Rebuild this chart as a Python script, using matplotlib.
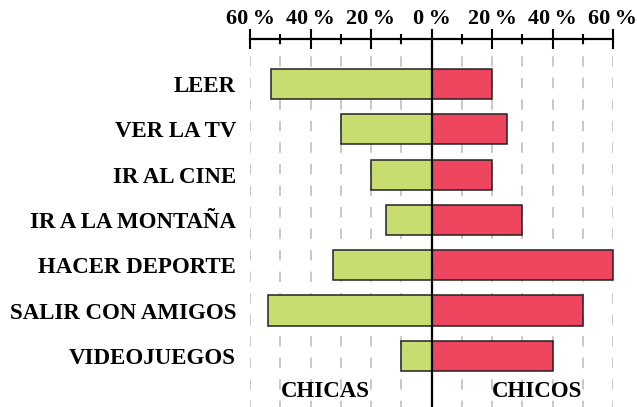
import matplotlib
matplotlib.use("Agg")
import matplotlib.pyplot as plt
import numpy as np

actividades = ["LEER", "VER LA TV", "IR AL CINE", "IR A LA MONTAÑA",
               "HACER DEPORTE", "SALIR CON AMIGOS", "VIDEOJUEGOS"]
chicas = [53, 30, 20, 15, 32.5, 54, 10]
chicos = [20, 25, 20, 30, 60, 50, 40]
ticks_mayores = [-60, -40, -20, 0, 20, 40, 60]
ticks_menores = [-50, -30, -10, 10, 30, 50]
etiquetas_ticks = ["60\u2009%", "40\u2009%", "20\u2009%", "0\u2009%", "20\u2009%", "40\u2009%", "60\u2009%"]

verde = "#c8dd6f"
rojo = "#ef465f"
borde = "#222222"

plt.rcParams['font.family'] = ['Liberation Serif', 'DejaVu Serif']
plt.rcParams['font.weight'] = 'bold'
plt.rcParams['lines.scale_dashes'] = False

fig = plt.figure(figsize=(6.37, 4.07), dpi=100)
ax = fig.add_axes([250/637, 0.0, 363/637, 1 - 39.3/407])

y = np.arange(len(actividades))

# lineas guia punteadas (todas menos el 0)
for v in ticks_mayores + ticks_menores:
    if v != 0:
        ax.axvline(v, color="#c8c8c8", lw=1.4, linestyle=(3, (7.5, 8)), zorder=0)

ax.barh(y, [-c for c in chicas], height=0.665, color=verde, edgecolor=borde, lw=1.1, zorder=2, clip_on=False)
ax.barh(y, chicos, height=0.665, color=rojo, edgecolor=borde, lw=1.1, zorder=2, clip_on=False)
ax.axvline(0, color="black", lw=1.6, zorder=3)

ax.set_xlim(-60, 60)
ax.set_ylim(7.13, -0.99)

ax.xaxis.tick_top()
ax.set_xticks(ticks_mayores)
ax.set_xticklabels(etiquetas_ticks, fontsize=16, fontweight='bold')
ax.set_xticks(ticks_menores, minor=True)
ax.tick_params(axis='x', which='major', direction='inout', length=15, width=1.5, pad=0)
ax.tick_params(axis='x', which='minor', direction='inout', length=7, width=1.5)

ax.set_yticks(y)
ax.set_yticklabels(actividades, fontsize=16.5, fontweight='bold')
ax.tick_params(axis='y', length=0, pad=10)

for s in ['left', 'right', 'bottom']:
    ax.spines[s].set_visible(False)
ax.spines['top'].set_linewidth(1.6)

ax.text(-35, 6.78, "CHICAS", ha='center', va='center', fontsize=16.5, fontweight='bold')
ax.text(35, 6.78, "CHICOS", ha='center', va='center', fontsize=16.5, fontweight='bold')

fig.savefig("out.png", dpi=100)
